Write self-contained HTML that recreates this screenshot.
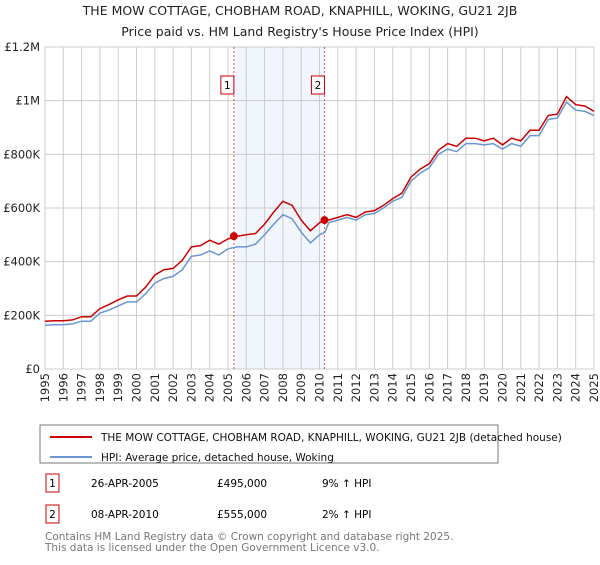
<!DOCTYPE html>
<html><head><meta charset="utf-8"><style>
body{margin:0;background:#fff;font-family:"Liberation Sans","DejaVu Sans",sans-serif;}
svg text{font-family:"DejaVu Sans","Liberation Sans",sans-serif;}
</style></head><body>
<svg id="c" width="600" height="560" xmlns="http://www.w3.org/2000/svg">
<text x="300" y="15" text-anchor="middle" font-size="12.5" fill="#222">THE MOW COTTAGE, CHOBHAM ROAD, KNAPHILL, WOKING, GU21 2JB</text>
<text x="300" y="36" text-anchor="middle" font-size="12.5" fill="#222">Price paid vs. HM Land Registry's House Price Index (HPI)</text>
<g id="grid"></g><g id="series"></g><g id="axes"></g>
<rect x="40" y="425" width="458" height="38" fill="none" stroke="#777"/>
<line x1="50" y1="437" x2="92" y2="437" stroke="#cc0000" stroke-width="2"/>
<text x="101" y="441" font-size="10.5" fill="#111">THE MOW COTTAGE, CHOBHAM ROAD, KNAPHILL, WOKING, GU21 2JB (detached house)</text>
<line x1="50" y1="457" x2="92" y2="457" stroke="#6b96d0" stroke-width="2"/>
<text x="101" y="461" font-size="10.5" fill="#111">HPI: Average price, detached house, Woking</text>
<g>
<rect x="46" y="474" width="13" height="18" fill="none" stroke="#cc0000"/><text x="52.5" y="487" text-anchor="middle" font-size="10.5">1</text>
<text x="91" y="487" font-size="10.5">26-APR-2005</text><text x="217" y="487" font-size="10.5">£495,000</text><text x="322" y="487" font-size="10.5">9% ↑ HPI</text></g>
<g>
<rect x="46" y="505" width="13" height="18" fill="none" stroke="#cc0000"/><text x="52.5" y="518" text-anchor="middle" font-size="10.5">2</text>
<text x="91" y="518" font-size="10.5">08-APR-2010</text><text x="217" y="518" font-size="10.5">£555,000</text><text x="322" y="518" font-size="10.5">2% ↑ HPI</text></g>
<text x="45" y="540" font-size="10.5" fill="#777">Contains HM Land Registry data © Crown copyright and database right 2025.</text>
<text x="45" y="551" font-size="10.5" fill="#777">This data is licensed under the Open Government Licence v3.0.</text>
</svg>
<script>
const years=[1995,1995.5,1996,1996.5,1997,1997.5,1998,1998.5,1999,1999.5,2000,2000.5,2001,2001.5,2002,2002.5,2003,2003.5,2004,2004.5,2005,2005.5,2006,2006.5,2007,2007.5,2008,2008.5,2009,2009.5,2010,2010.3,2010.5,2011,2011.5,2012,2012.5,2013,2013.5,2014,2014.5,2015,2015.5,2016,2016.5,2017,2017.5,2018,2018.5,2019,2019.5,2020,2020.5,2021,2021.5,2022,2022.5,2023,2023.5,2024,2024.5,2025];
const hpiValues=[163,165,165,168,178,178,208,220,235,250,250,280,320,337,345,370,420,425,440,425,448,455,455,465,500,540,575,560,510,470,500,510,545,555,565,555,575,580,600,625,640,700,730,750,800,820,810,840,840,835,840,820,840,830,870,870,930,935,995,965,960,945,930];
const priceValues=[178,180,180,183,195,195,225,240,258,272,272,305,350,370,375,405,455,460,480,465,485,495,500,505,540,585,625,610,555,515,545,555,555,565,575,565,585,590,610,635,655,715,745,765,815,840,830,860,860,850,860,835,860,850,890,890,945,950,1015,985,980,960,945];
const sales=[{t:2005.32,v:495},{t:2010.27,v:555}];
const yTicks=[0,200,400,600,800,1000,1200];
const yTickLabels=["£0","£200K","£400K","£600K","£800K","£1M","£1.2M"];
const xTicks=[1995,1996,1997,1998,1999,2000,2001,2002,2003,2004,2005,2006,2007,2008,2009,2010,2011,2012,2013,2014,2015,2016,2017,2018,2019,2020,2021,2022,2023,2024,2025];
const NS="http://www.w3.org/2000/svg";
const X0=45,X1=594,Y0=369,Y1=47;
const xs=t=>X0+(t-1995)/30*(X1-X0);
const ys=v=>Y0-v/1200*(Y0-Y1);
function mk(tag,at,parent){const e=document.createElementNS(NS,tag);for(const k in at)e.setAttribute(k,at[k]);parent.appendChild(e);return e;}
const grid=document.getElementById('grid'),ser=document.getElementById('series'),ax=document.getElementById('axes');
const band=mk('rect',{x:xs(sales[0].t),y:Y1,width:xs(sales[1].t)-xs(sales[0].t),height:Y0-Y1,fill:'#eef3fc',opacity:0.8},grid);


yTicks.forEach((v,i)=>{
 const l=mk('line',{x1:X0,x2:X1,y1:ys(v),y2:ys(v),stroke:'#ccc'},grid);
 
 
 const t=mk('text',{x:X0-5,y:ys(v)+4,'text-anchor':'end','font-size':11.5,fill:'#222'},ax);t.textContent=yTickLabels[i];
 
 
});
xTicks.forEach(y=>{
 const l=mk('line',{x1:xs(y),x2:xs(y),y1:Y1,y2:Y0,stroke:'#ccc'},grid);
 
 
 const tx=xs(y)+4,ty=Y0+4;
 const t=mk('text',{x:tx,y:ty,'text-anchor':'end','font-size':11.5,fill:'#222',transform:`rotate(-90 ${tx} ${ty})`},ax);t.textContent=y;
 
 
});
sales.forEach((s,i)=>{
 const l=mk('line',{x1:xs(s.t),x2:xs(s.t),y1:Y1,y2:Y0,stroke:'#e05555','stroke-dasharray':'2,2'},grid);
 
 
 const g=mk('g',{},ax);
 
 
 mk('rect',{x:xs(s.t)-13,y:76,width:13,height:18,fill:'#fff',stroke:'#cc0000'},g);
 const t=mk('text',{x:xs(s.t)-6.5,y:89,'text-anchor':'middle','font-size':10.5},g);t.textContent=i+1;
});
function path(vals){return vals.map((v,i)=>(i?'L':'M')+xs(years[i]).toFixed(1)+','+ys(v).toFixed(1)).join('');}
const hp=mk('path',{d:path(hpiValues),fill:'none',stroke:'#6b96d0','stroke-width':1.5},ser);


const pp=mk('path',{d:path(priceValues),fill:'none',stroke:'#cc0000','stroke-width':1.5},ser);


sales.forEach(s=>{
 const c=mk('circle',{cx:xs(s.t),cy:ys(s.v),r:4,fill:'#cc0000'},ser);
 
 
});
</script>
</body></html>
